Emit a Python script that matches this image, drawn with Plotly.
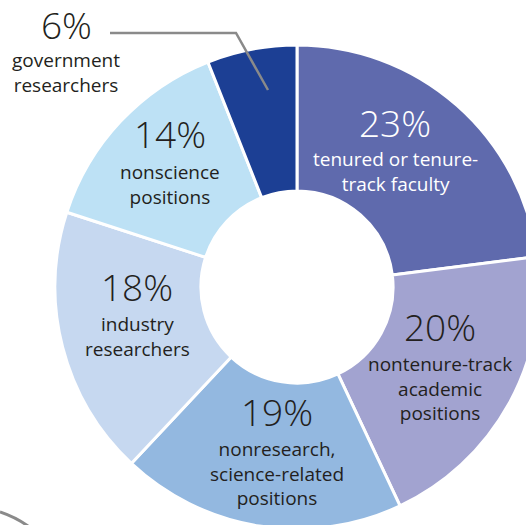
import plotly.graph_objects as go

# ---- data ----
labels = ["tenured or tenure-<br>track faculty",
          "nontenure-track<br>academic<br>positions",
          "nonresearch,<br>science-related<br>positions",
          "industry<br>researchers",
          "nonscience<br>positions",
          "government<br>researchers"]
values = [23, 20, 19, 18, 14, 6]
colors = ["#5f6aad", "#a2a3d0", "#93b8e0", "#c6d8f0", "#bde1f5", "#1c3f94"]
text_colors = ["white", "#231f20", "#231f20", "#231f20", "#231f20", "#231f20"]

W, H = 540, 532
FONT = "Open Sans"

def px(x):
    return x / W

def py(y):
    return 1 - y / H

fig = go.Figure(go.Pie(
    values=values,
    labels=[l.replace("<br>", " ") for l in labels],
    hole=0.397,
    sort=False,
    direction="clockwise",
    rotation=0,
    marker=dict(colors=colors, line=dict(color="white", width=3)),
    textinfo="none",
    hoverinfo="label+percent",
    showlegend=False,
    domain=dict(x=[px(55), px(539)], y=[py(529), py(45)]),
))

# label anchor positions (pixels): centre x, number centre y, first label line centre y
pos = [(395, 122, 159), (440, 326, 364), (277, 411, 449),
       (137, 286, 324), (170, 133, 172), (66, 24, 60)]
LSIZE = 19
LINE = LSIZE * 1.3

ann = []
for i, (v, lab) in enumerate(zip(values, labels)):
    cx, ny, ly = pos[i]
    n = len(lab.split("<br>"))
    ann.append(dict(x=px(cx), y=py(ny), xref="paper", yref="paper",
                    text=f"{v}%", showarrow=False, xanchor="center", yanchor="middle",
                    borderpad=0,
                    font=dict(family=FONT, size=37, color=text_colors[i], weight=300)))
    ann.append(dict(x=px(cx), y=py(ly + (n - 1) * LINE / 2), xref="paper", yref="paper",
                    text=lab, showarrow=False, xanchor="center", yanchor="middle",
                    borderpad=0,
                    font=dict(family=FONT, size=LSIZE, color=text_colors[i], weight=400)))

def pt(x, y):
    return f"{px(x)} {py(y)}"

shapes = [
    dict(type="path", xref="paper", yref="paper",
         path=f"M {pt(110, 33)} L {pt(236, 33)} L {pt(268, 90)}",
         line=dict(color="#8a8a8a", width=2.5)),
    dict(type="path", xref="paper", yref="paper",
         path=f"M {pt(0, 512)} Q {pt(15, 517)} {pt(28, 526)}",
         line=dict(color="#8a8a8a", width=3)),
]

fig.update_layout(width=W, height=H, margin=dict(l=0, r=0, t=0, b=0),
                  paper_bgcolor="white", plot_bgcolor="white",
                  annotations=ann, shapes=shapes)

fig.write_html("out.html", config={"displayModeBar": False},
               post_script="document.body.style.margin='0';document.body.style.overflow='hidden';")
